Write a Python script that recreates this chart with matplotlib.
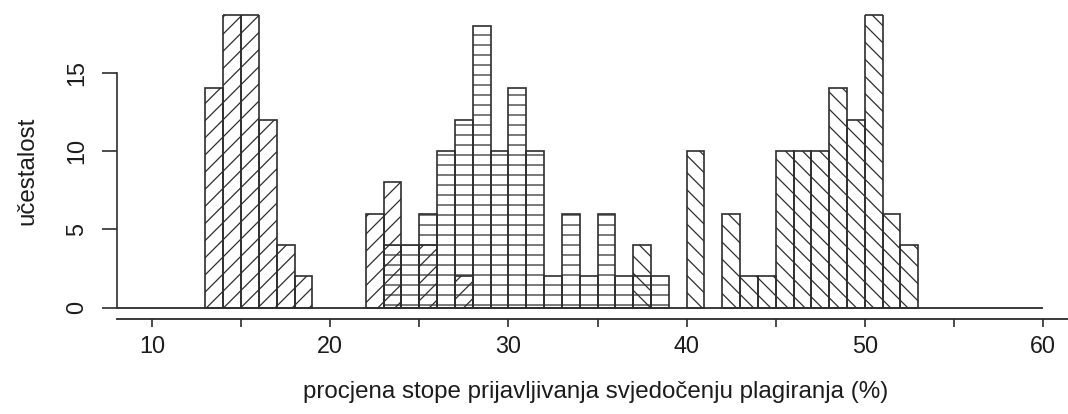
import matplotlib
matplotlib.use("Agg")
import matplotlib.pyplot as plt
import matplotlib.hatch as mhatch
from matplotlib.backend_bases import GraphicsContextBase

# ---- data (bin left edges and counts, bin width 1) ----
left_bins = [13, 14, 15, 16, 17, 18, 22, 23, 25, 27]
left_counts = [14, 19, 19, 12, 4, 2, 6, 8, 4, 2]

mid_bins = [23, 24, 25, 26, 27, 28, 29, 30, 31, 32, 33, 34, 35, 36, 37, 38]
mid_counts = [4, 4, 6, 10, 12, 18, 10, 14, 10, 2, 6, 2, 6, 2, 2, 2]

right_bins = [37, 40, 42, 43, 44, 45, 46, 47, 48, 49, 50, 51, 52]
right_counts = [4, 10, 6, 2, 2, 10, 10, 10, 14, 12, 19, 6, 4]

x_ticks = [10, 15, 20, 25, 30, 35, 40, 45, 50, 55, 60]
x_ticklabels = ["10", "", "20", "", "30", "", "40", "", "50", "", "60"]
y_ticks = [0, 5, 10, 15]
y_ticklabels = ["0", "5", "10", "15"]

xlabel = "procjena stope prijavljivanja svjedočenju plagiranja (%)"
ylabel = "učestalost"


# ---- hatch density: denser diagonal lines than matplotlib's default ----
def _hatch_path(self, density=6.0):
    h = self.get_hatch()
    if h is None:
        return None
    d = 6.0 if "-" in h else 7.0
    return mhatch.get_path(h, d)


GraphicsContextBase.get_hatch_path = _hatch_path

# ---- style ----
W, H, DPI = 1068, 414, 120
plt.rcParams["font.family"] = ["Liberation Sans", "DejaVu Sans"]
plt.rcParams["hatch.linewidth"] = 0.75
FS_TICK = 14
FS_LAB = 14.5
TXT = "#1c1c1c"
LINE = "#2e2e2e"

fig = plt.figure(figsize=(W / DPI, H / DPI), dpi=DPI)

x_lo, x_hi = 8.02, 61.40
y_lo, y_hi = -0.3, 18.68
ax_left_px, ax_right_px = 116.7, 1068.0
ax_top_px = 15.0
zero_px = 307.7
px_per_y = 15.67
ax_bottom_px = zero_px - y_lo * px_per_y
ax = fig.add_axes([ax_left_px / W, 1 - ax_bottom_px / H,
                   (ax_right_px - ax_left_px) / W, (ax_bottom_px - ax_top_px) / H])
ax.set_xlim(x_lo, x_hi)
ax.set_ylim(y_lo, y_hi)

bar_kw = dict(width=1.0, align="edge", fill=False, edgecolor=LINE, linewidth=1.0)
ax.bar(mid_bins, mid_counts, hatch="--", **bar_kw)
ax.bar(left_bins, left_counts, hatch="//", **bar_kw)
ax.bar(right_bins, right_counts, hatch="\\\\", **bar_kw)

# border of bars clipped at the top of the plot region
for bins, counts in ((left_bins, left_counts), (mid_bins, mid_counts), (right_bins, right_counts)):
    for b, c in zip(bins, counts):
        if c > y_hi:
            ax.hlines(y_hi, b, b + 1, color=LINE, linewidth=1.0, clip_on=False)

# baseline at zero
ax.hlines(0, x_lo, x_ticks[-1], color=LINE, linewidth=1.1, zorder=3)

for s in ("top", "right"):
    ax.spines[s].set_visible(False)
ax.spines["left"].set_bounds(y_ticks[0], y_ticks[-1])
ax.spines["left"].set_color(LINE)
ax.spines["left"].set_linewidth(1.0)
ax.spines["bottom"].set_color(LINE)
ax.spines["bottom"].set_linewidth(1.1)
ax.spines["bottom"].set_position(("outward", (319.3 - ax_bottom_px) * 72 / DPI))

ax.set_xticks(x_ticks)
ax.set_xticklabels(x_ticklabels)
ax.set_yticks(y_ticks)
ax.set_yticklabels(y_ticklabels)
ax.tick_params(axis="x", length=8 * 72 / DPI, width=1.0, color=LINE,
               pad=4.5, labelsize=FS_TICK, labelcolor=TXT)
ax.tick_params(axis="y", length=15 * 72 / DPI, width=1.0, color=LINE,
               pad=8.2, labelsize=FS_TICK, labelcolor=TXT, labelrotation=90)
for t in ax.get_yticklabels():
    t.set_va("center")

fig.text(596 / W, 1 - 398 / H, xlabel, ha="center", va="baseline",
         fontsize=FS_LAB, color=TXT)
fig.text(33 / W, 1 - 171 / H, ylabel, rotation=90, rotation_mode="anchor",
         ha="center", va="baseline", fontsize=FS_LAB, color=TXT)

fig.savefig("out.png", dpi=DPI, facecolor="white")
